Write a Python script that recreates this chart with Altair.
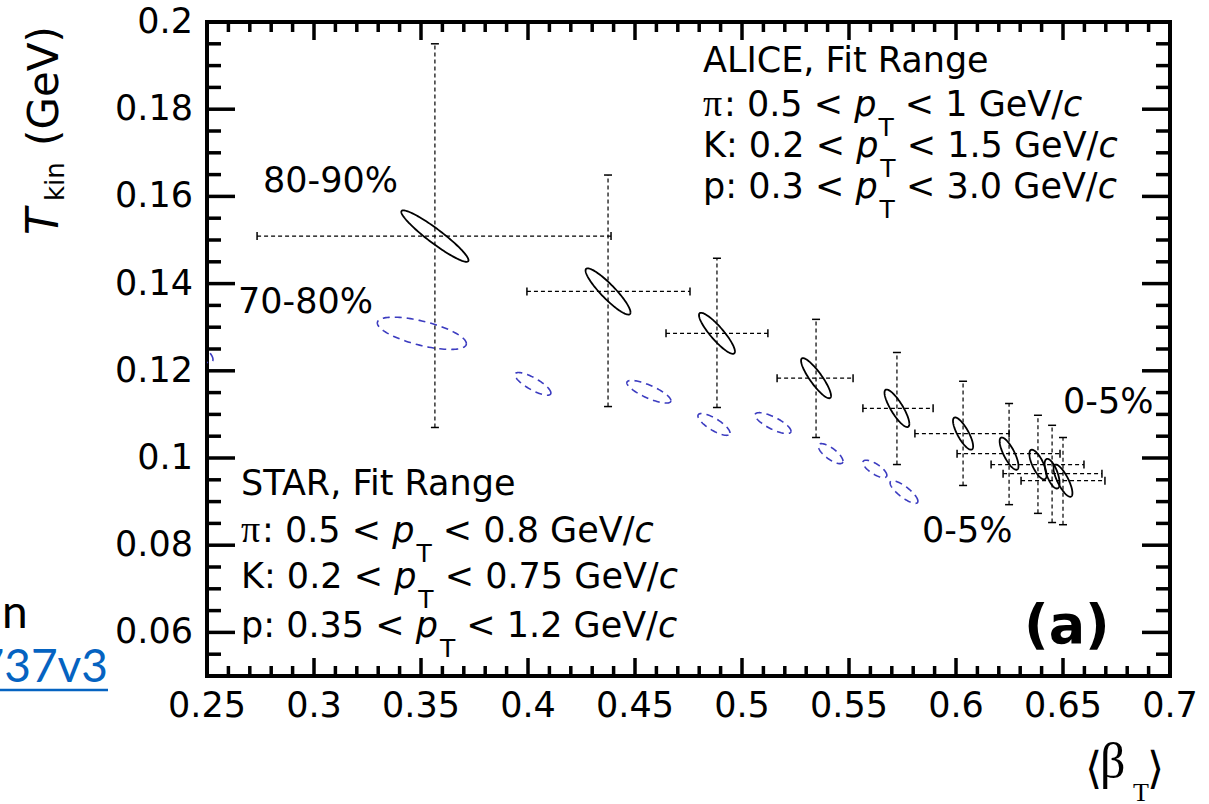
import numpy as np
import pandas as pd
import altair as alt

# ---------------- data ----------------
# ALICE (black ellipses with dashed error bars), 80-90% ... 0-5% from left to right
A_X = [0.3565, 0.4374, 0.4883, 0.5346, 0.5724, 0.6033, 0.6248, 0.6383, 0.6449, 0.6500]
A_Y = [0.1509, 0.1382, 0.1286, 0.1183, 0.1114, 0.1056, 0.1010, 0.0985, 0.0964, 0.0948]
A_XLO = [0.2734, 0.3995, 0.4645, 0.5164, 0.5565, 0.5808, 0.6005, 0.6164, 0.6220, 0.6304]
A_XHI = [0.4388, 0.4757, 0.5121, 0.5519, 0.5893, 0.6248, 0.6486, 0.6598, 0.6682, 0.6696]
A_YLO = [0.1070, 0.1118, 0.1116, 0.1047, 0.0985, 0.0937, 0.0893, 0.0873, 0.0852, 0.0847]
A_YHI = [0.1950, 0.1649, 0.1458, 0.1318, 0.1242, 0.1176, 0.1125, 0.1098, 0.1075, 0.1047]
A_SX = [0.0157, 0.0105, 0.0084, 0.0070, 0.0058, 0.0047, 0.0044, 0.0040, 0.0035, 0.0044]
A_SY = [0.0059, 0.0053, 0.0047, 0.0046, 0.0043, 0.0037, 0.0037, 0.0034, 0.0034, 0.0037]
A_RHO = [-0.94, -0.905, -0.885, -0.874, -0.83, -0.786, -0.77, -0.71, -0.63, -0.77]

# STAR (blue dashed ellipses)
S_X = [0.2453, 0.3504, 0.4023, 0.4565, 0.4869, 0.5145, 0.5414, 0.5621, 0.5757]
S_Y = [0.1247, 0.1286, 0.1170, 0.1152, 0.1077, 0.1080, 0.1010, 0.0975, 0.0922]
S_SX = [0.0075, 0.0208, 0.0084, 0.0103, 0.0075, 0.0084, 0.0058, 0.0056, 0.0065]
S_SY = [0.0028, 0.0037, 0.0026, 0.0026, 0.0025, 0.0024, 0.0023, 0.0020, 0.0026]
S_RHO = [-0.75, -0.64, -0.80, -0.79, -0.78, -0.77, -0.75, -0.73, -0.81]

# axis ticks and tick labels
X_MAJOR = [0.25, 0.3, 0.35, 0.4, 0.45, 0.5, 0.55, 0.6, 0.65, 0.7]
X_LABELS = ["0.25", "0.3", "0.35", "0.4", "0.45", "0.5", "0.55", "0.6", "0.65", "0.7"]
Y_MAJOR = [0.06, 0.08, 0.1, 0.12, 0.14, 0.16, 0.18, 0.2]
Y_LABELS = ["0.06", "0.08", "0.1", "0.12", "0.14", "0.16", "0.18", "0.2"]
X_MINOR = [round(0.25 + 0.01 * i, 3) for i in range(1, 45) if i % 5 != 0]
Y_MINOR = [round(0.05 + 0.005 * i, 4) for i in range(1, 30) if (i - 2) % 4 != 0]

# text
CENT_LABELS = ["80-90%", "70-80%", "0-5%", "0-5%"]
ALICE_LINES = [
    [("ALICE, Fit Range", "r")],
    [("π", "pi"), (": 0.5 < ", "r"), ("p", "i"), ("T", "s"), (" < 1 GeV/", "r"), ("c", "i")],
    [("K: 0.2 < ", "r"), ("p", "i"), ("T", "s"), (" < 1.5 GeV/", "r"), ("c", "i")],
    [("p: 0.3 < ", "r"), ("p", "i"), ("T", "s"), (" < 3.0 GeV/", "r"), ("c", "i")],
]
STAR_LINES = [
    [("STAR, Fit Range", "r")],
    [("π", "pi"), (": 0.5 < ", "r"), ("p", "i"), ("T", "s"), (" < 0.8 GeV/", "r"), ("c", "i")],
    [("K: 0.2 < ", "r"), ("p", "i"), ("T", "s"), (" < 0.75 GeV/", "r"), ("c", "i")],
    [("p: 0.35 < ", "r"), ("p", "i"), ("T", "s"), (" < 1.2 GeV/", "r"), ("c", "i")],
]

# ---------------- layout ----------------
PL, PT, PR, PB = 207, 22, 39, 128
W, H = 1209 - PL - PR, 804 - PT - PB
FONT = "DejaVu Sans"

xs = alt.Scale(domain=[0.25, 0.7], nice=False, zero=False)
ys = alt.Scale(domain=[0.05, 0.2], nice=False, zero=False)


def outline(xc, yc, sx, sy, rho):
    t = np.linspace(0, 2 * np.pi, 121)
    rows = []
    for i in range(len(xc)):
        xx = xc[i] + sx[i] * np.cos(t)
        yy = yc[i] + sy[i] * (rho[i] * np.cos(t) + np.sqrt(1 - rho[i] ** 2) * np.sin(t))
        for k in range(len(t)):
            rows.append({"id": i, "k": k, "x": xx[k], "y": yy[k]})
    return pd.DataFrame(rows)


dfA = outline(A_X, A_Y, A_SX, A_SY, A_RHO)
dfS = outline(S_X, S_Y, S_SX, S_SY, S_RHO)
dfE = pd.DataFrame({"x": A_X, "y": A_Y, "xlo": A_XLO, "xhi": A_XHI,
                    "ylo": A_YLO, "yhi": A_YHI})

layers = []

layers.append(alt.Chart(dfA).mark_line(color="black", strokeWidth=1.8, clip=True).encode(
    x=alt.X("x:Q", scale=xs, axis=None),
    y=alt.Y("y:Q", scale=ys, axis=None),
    detail="id:N", order="k:Q"))

layers.append(alt.Chart(dfS).mark_line(color="#3c3cc0", strokeWidth=1.6, strokeDash=[7, 5],
                                       clip=True).encode(
    x=alt.X("x:Q", scale=xs, axis=None),
    y=alt.Y("y:Q", scale=ys, axis=None),
    detail="id:N", order="k:Q"))

base = alt.Chart(dfE)
layers.append(base.mark_rule(color="black", strokeWidth=1.2, strokeDash=[4, 3]).encode(
    x=alt.X("xlo:Q", scale=xs, axis=None), x2="xhi:Q",
    y=alt.Y("y:Q", scale=ys, axis=None)))
layers.append(base.mark_rule(color="black", strokeWidth=1.2, strokeDash=[4, 3]).encode(
    x=alt.X("x:Q", scale=xs, axis=None),
    y=alt.Y("ylo:Q", scale=ys, axis=None), y2="yhi:Q"))
for fx in ["xlo", "xhi"]:
    layers.append(base.mark_tick(orient="vertical", size=8, thickness=1.5, color="black",
                                 opacity=1).encode(
        x=alt.X(f"{fx}:Q", scale=xs, axis=None),
        y=alt.Y("y:Q", scale=ys, axis=None)))
for fy in ["ylo", "yhi"]:
    layers.append(base.mark_tick(orient="horizontal", size=8, thickness=1.5, color="black",
                                 opacity=1).encode(
        x=alt.X("x:Q", scale=xs, axis=None),
        y=alt.Y(f"{fy}:Q", scale=ys, axis=None)))

# frame ticks (pointing inward, ROOT style)
TW = 3.5
for vals, ln in [(X_MAJOR, 18), (X_MINOR, 10)]:
    d = alt.Chart(pd.DataFrame({"v": vals}))
    layers.append(d.mark_rule(color="black", strokeWidth=TW).encode(
        x=alt.X("v:Q", scale=xs, axis=None), y=alt.value(H), y2=alt.value(H - ln)))
    layers.append(d.mark_rule(color="black", strokeWidth=TW).encode(
        x=alt.X("v:Q", scale=xs, axis=None), y=alt.value(0), y2=alt.value(ln)))
for vals, ln in [(Y_MAJOR, 28), (Y_MINOR, 14)]:
    d = alt.Chart(pd.DataFrame({"v": vals}))
    layers.append(d.mark_rule(color="black", strokeWidth=TW).encode(
        y=alt.Y("v:Q", scale=ys, axis=None), x=alt.value(0), x2=alt.value(ln)))
    layers.append(d.mark_rule(color="black", strokeWidth=TW).encode(
        y=alt.Y("v:Q", scale=ys, axis=None), x=alt.value(W), x2=alt.value(W - ln)))

# tick labels
layers.append(alt.Chart(pd.DataFrame({"v": X_MAJOR, "lab": X_LABELS})).mark_text(
    font=FONT, fontSize=35, color="black", align="center", baseline="alphabetic").encode(
    x=alt.X("v:Q", scale=xs, axis=None), y=alt.value(717 - PT), text="lab:N"))
layers.append(alt.Chart(pd.DataFrame({"v": Y_MAJOR, "lab": Y_LABELS})).mark_text(
    font=FONT, fontSize=35, color="black", align="right", baseline="middle").encode(
    y=alt.Y("v:Q", scale=ys, axis=None), x=alt.value(-14), text="lab:N"))


def txt(s, px, py, size=35, font=FONT, style="normal", weight="normal",
        color="black", angle=0, align="left"):
    """px, py: page coordinates of the text anchor (baseline)."""
    return alt.Chart(pd.DataFrame({"t": [s]})).mark_text(
        font=font, fontSize=size, fontStyle=style, fontWeight=weight, color=color,
        angle=angle, align=align, baseline="alphabetic").encode(
        x=alt.value(px - PL), y=alt.value(py - PT), text="t:N")


# DejaVu Sans advance widths (em)
ADV = {" ": 0.318, ",": 0.318, "-": 0.361, ".": 0.318, "/": 0.337, ":": 0.337,
       "<": 0.838, "%": 0.950, "A": 0.684, "C": 0.698, "E": 0.632, "F": 0.575,
       "G": 0.775, "I": 0.295, "K": 0.656, "L": 0.557, "R": 0.695, "S": 0.635,
       "T": 0.611, "V": 0.684, "a": 0.613, "c": 0.550, "e": 0.615, "g": 0.635,
       "i": 0.278, "n": 0.634, "p": 0.635, "t": 0.392}
for dgt in "0123456789":
    ADV[dgt] = 0.636


def width(s, size):
    return sum(ADV.get(ch, 0.6) for ch in s) * size


def rich_line(pieces, x0, base_y):
    out = []
    x = x0
    for s, st in pieces:
        lead = len(s) - len(s.lstrip(" "))
        core = s.strip(" ")
        if st == "r":
            out.append(txt(core, x + width(" " * lead, 35), base_y, 35))
            x += width(s, 35)
        elif st == "i":
            out.append(txt(core, x, base_y, 35, style="italic"))
            x += width(s, 35) + 2
        elif st == "s":
            out.append(txt(core, x, base_y + 20, 25))
            x += width(s, 25)
        elif st == "pi":
            out.append(txt(core, x, base_y, 38, font="Liberation Serif"))
            x += 21
    return out


for line, by in zip(ALICE_LINES, [72, 116, 157, 198]):
    layers += rich_line(line, 703, by)
for line, by in zip(STAR_LINES, [495, 542, 588, 637]):
    layers += rich_line(line, 241, by)

# centrality labels
for s, (px, py) in zip(CENT_LABELS, [(263, 192), (238, 313), (1063, 413), (922, 542)]):
    layers.append(txt(s, px, py, 35))

# panel label
layers.append(txt("(a)", 1024, 643, 54, weight="bold"))

# y axis title  T_kin (GeV)
layers.append(txt("T", 58, 235, 44, style="italic", angle=270))
layers.append(txt("kin", 64, 201, 26, angle=270))
layers.append(txt("(GeV)", 58, 146, 42, angle=270))

# x axis title  <beta_T>
layers.append(txt("⟨", 1085, 783, 44, font="Liberation Serif, DejaVu Serif"))
layers.append(txt("β", 1100, 778, 50, font="Liberation Serif"))
layers.append(txt("T", 1133, 801, 26, font="Liberation Serif"))
layers.append(txt("⟩", 1147, 783, 44, font="Liberation Serif, DejaVu Serif"))

# stray slide text at the left edge
layers.append(txt("n", 2, 628, 46, font="Lato"))
layers.append(txt("737v3", 108, 682, 46, font="Lato", color="#0563C1", align="right"))
layers.append(alt.Chart(pd.DataFrame({"t": [0]})).mark_rule(
    color="#0563C1", strokeWidth=2.5).encode(
    x=alt.value(0 - PL), x2=alt.value(108 - PL), y=alt.value(690 - PT)))

chart = alt.layer(*layers).properties(
    width=W, height=H,
    padding={"left": PL, "top": PT, "right": PR, "bottom": PB},
    autosize=alt.AutoSizeParams(type="none"),
    background="white",
).configure_view(stroke="black", strokeWidth=4)

chart.save("out.html", embed_options={"renderer": "svg", "actions": False})
